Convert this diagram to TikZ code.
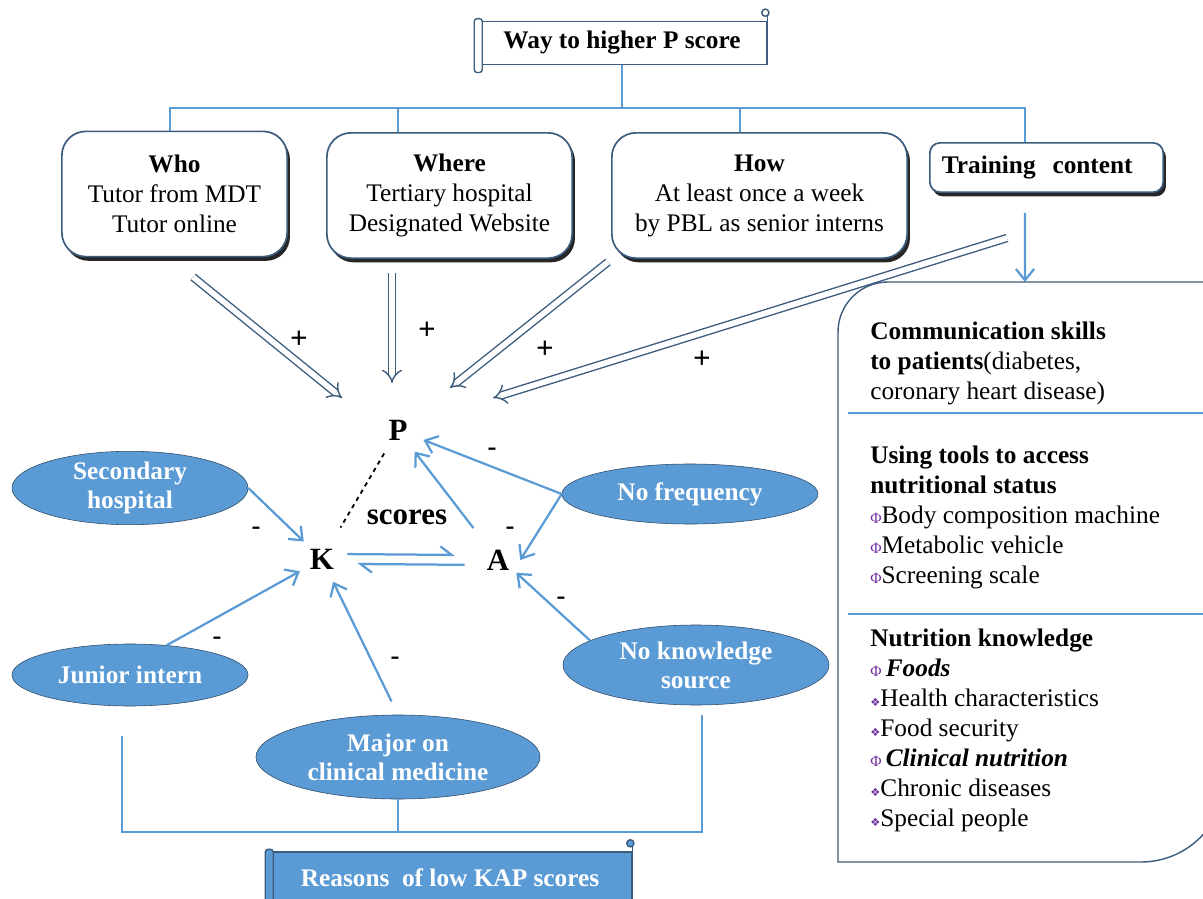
\documentclass[tikz,border=0pt]{standalone}
\usepackage{fontspec}
\setmainfont{Liberation Serif}
\newfontfamily\dingfont{DejaVu Sans}
\usepackage{tikz}
\usetikzlibrary{arrows.meta}
\usetikzlibrary{shapes.geometric}
\usetikzlibrary{shadows}
\usepackage{xcolor}
\definecolor{ColLine}{RGB}{91,155,213}
\definecolor{ColFill}{RGB}{91,155,213}
\definecolor{ColEdge}{RGB}{60,92,125}
\definecolor{ColBul}{RGB}{112,48,160}
\newcommand{\BigFont}{\fontsize{18}{21.3}\selectfont}
\newcommand{\PhiBul}{{\color{ColBul}\fontsize{11}{11}\selectfont Φ}}
\newcommand{\DiaBul}{{\color{ColBul}\dingfont\fontsize{8}{8}\selectfont ❖}}
\tikzstyle{BoxTop}=[draw=ColEdge,fill=white,rounded corners=0.6cm,line width=1.2pt,minimum height=3.13cm,
align=center,font=\BigFont,drop shadow={shadow xshift=2pt,shadow yshift=-3pt,fill=black,opacity=.85}]
\tikzstyle{BoxTrain}=[BoxTop,rounded corners=0.25cm,minimum width=5.83cm,minimum height=1.23cm,
text width=5.23cm,align=left,font=\BigFont\bfseries]
\tikzstyle{ScrollTop}=[draw=ColEdge,fill=white,line width=1pt,minimum width=7.25cm,minimum height=1.08cm,
font=\BigFont\bfseries]
\tikzstyle{ScrollBot}=[ScrollTop,fill=ColFill,text=white,minimum width=9.1cm,minimum height=1.3cm]
\tikzstyle{EllReason}=[ellipse,draw=ColEdge!80!black,fill=ColFill,text=white,thin,inner sep=0pt,
align=center,font=\fontsize{18}{20.6}\selectfont\bfseries]
\tikzstyle{LetterKAP}=[circle,inner sep=0pt,font=\fontsize{22}{22}\selectfont\bfseries]
\tikzstyle{EdgeBlue}=[ColLine,line width=1.6pt]
\tikzstyle{ArrowBlue}=[EdgeBlue,-{Straight Barb[length=8pt,width=13pt]}]
\tikzstyle{Harp}=[EdgeBlue,-{Straight Barb[left,length=8pt,width=12pt]}]
\tikzstyle{ArrowPlus}=[draw=ColEdge,double=white,double distance=4pt,line width=1pt,-{Implies[scale=1.5]}]
\tikzstyle{Sign}=[font=\fontsize{22}{22}\selectfont\bfseries,inner sep=0pt]
\tikzstyle{ListText}=[anchor=north west,align=left,font=\BigFont,inner sep=0pt]

\begin{document}
\begin{tikzpicture}[x=0.025cm,y=-0.025cm]
\useasboundingbox(0,0)rectangle(1203,899);
\clip(0,0)rectangle(1203,899);
\node[ScrollTop](title)at(622,43){Way to higher P score};
\draw[ColEdge,line width=1pt,fill=white,rounded corners=2pt]([xshift=-0.05cm,yshift=0.05cm]title.north west)rectangle([xshift=0.15cm,yshift=-0.18cm]title.south west);
\draw[ColEdge,line width=1pt]([yshift=0.17cm]title.north east)--(title.south east);
\draw[ColEdge,line width=1pt,fill=white]([xshift=-0.06cm,yshift=0.2cm]title.north east)circle(0.09cm);
\node[BoxTop,minimum width=5.63cm](who)at(174.5,194){\textbf{Who}\\Tutor from MDT\\Tutor online};
\node[BoxTop,minimum width=6.13cm](where)at(449.5,195.5){\textbf{Where}\\Tertiary hospital\\Designated Website};
\node[BoxTop,minimum width=7.38cm](how)at(759.5,195.5){\textbf{How}\\At least once a week\\by PBL as senior interns};
\node[BoxTrain](train)at(1046.5,167.5){Training\ \ content};
\coordinate(TreeJoin)at(622,108);
\draw[EdgeBlue](title.south)--(TreeJoin);
\foreach \b/\s in {who/-0.11cm,where/-1.29cm,how/-0.49cm,train/-0.54cm}
  \draw[EdgeBlue]([xshift=\s]\b.north)|-(TreeJoin);
\coordinate(ContentTop)at(1025,282);
\draw[ArrowBlue]([xshift=-0.54cm,yshift=-0.5cm]train.south)--(ContentTop);
\draw[ColEdge,line width=1pt](1210,282)[rounded corners=1.25cm]--(838,282)[sharp corners]--(838,862)[rounded corners=2.1cm]--(1225,862)--(1225,700);
\draw[ColLine,line width=0.8pt](848,413)--(1203,413);
\draw[ColLine,line width=0.8pt](848,614)--(1203,614);
\node[ListText](comm)at(870,322){\textbf{Communication skills}\\\textbf{to patients}(diabetes,\\coronary heart disease)};
\node[ListText](tools)at(870,446){\textbf{Using tools to access}\\\textbf{nutritional status}\\\PhiBul Body composition machine\\\PhiBul Metabolic vehicle\\\PhiBul Screening scale};
\node[ListText](knowl)at(870,629){\textbf{Nutrition knowledge}\\\PhiBul\,\textbf{\textit{Foods}}\\\DiaBul Health characteristics\\\DiaBul Food security\\\PhiBul\,\textbf{\textit{Clinical nutrition}}\\\DiaBul Chronic diseases\\\DiaBul Special people};
\node[LetterKAP,minimum size=1.35cm](P)at(398,430){P};
\node[LetterKAP,minimum size=1.25cm](K)at(322,559){K};
\node[LetterKAP,minimum size=1.1cm](A)at(498,560){A};
\node[font=\fontsize{22}{22}\selectfont\bfseries](scores)at(407,517){scores};
\node[EllReason,minimum width=5.9cm,minimum height=1.75cm](shos)at(130,488){Secondary\\hospital};
\node[EllReason,minimum width=5.9cm,minimum height=1.55cm](jun)at(130,675){Junior intern};
\node[EllReason,minimum width=7.1cm,minimum height=2.1cm](major)at(398,757){Major on\\clinical medicine};
\node[EllReason,minimum width=6.4cm,minimum height=1.5cm](nofreq)at(690,494){No frequency};
\node[EllReason,minimum width=6.65cm,minimum height=2cm](nks)at(696,665){No knowledge\\source};
\coordinate(WhoOut)at(193,277);\coordinate(PinWho)at(342,398);
\coordinate(WhereOut)at(392,273);\coordinate(PinWhere)at(392,383);
\coordinate(HowOut)at(608,262);\coordinate(PinHow)at(450,388);
\coordinate(TrainOut)at(1007,238);\coordinate(PinTrain)at(493,398);
\draw[ArrowPlus](WhoOut)--(PinWho);
\draw[ArrowPlus](WhereOut)--(PinWhere);
\draw[ArrowPlus](HowOut)--(PinHow);
\draw[ArrowPlus](TrainOut)--(PinTrain);
\node[Sign](p1)at(299,340){+};
\node[Sign](p2)at(427,331){+};
\node[Sign](p3)at(545,350){+};
\node[Sign](p4)at(702,360){+};
\draw[dashed,line width=1.3pt,shorten >=0.28cm](P)--(K);
\draw[Harp,shorten >=0.52cm]([yshift=3.5pt]K.east)--([yshift=3.5pt]A.west);
\draw[Harp,shorten <=0.28cm,shorten >=0.25cm]([yshift=-3.5pt]A.west)--([yshift=-3.5pt]K.east);
\draw[ArrowBlue,shorten <=0.45cm](A)--(P);
\draw[ArrowBlue](nofreq.west)--(P);
\draw[ArrowBlue](nofreq.west)--(A.east);
\draw[ArrowBlue](nks.167)--(A.-35);
\draw[ArrowBlue](shos.east)--(K);
\draw[ArrowBlue](jun.39)--(K);
\draw[ArrowBlue,shorten <=0.37cm](major.north)--(K);
\node[Sign,font=\fontsize{19}{19}\selectfont\bfseries](m1)at(492,452){-};
\node[Sign,font=\fontsize{19}{19}\selectfont\bfseries](m2)at(510,531){-};
\node[Sign,font=\fontsize{19}{19}\selectfont\bfseries](m3)at(561,601){-};
\node[Sign,font=\fontsize{19}{19}\selectfont\bfseries](m4)at(256,531){-};
\node[Sign,font=\fontsize{19}{19}\selectfont\bfseries](m5)at(217,641){-};
\node[Sign,font=\fontsize{19}{19}\selectfont\bfseries](m6)at(395,661){-};
\coordinate(BracketMid)at(398,832);
\draw[EdgeBlue](major.south)--(BracketMid);
\draw[EdgeBlue]([xshift=-0.2cm,yshift=-0.73cm]jun.south)|-(BracketMid);
\draw[EdgeBlue]([xshift=0.15cm,yshift=-0.25cm]nks.south)|-(BracketMid);
\node[ScrollBot](reasons)at(450,878){Reasons\ \ of low KAP scores};
\draw[ColEdge,line width=1pt,fill=ColFill,rounded corners=2pt]([xshift=-0.05cm,yshift=0.05cm]reasons.north west)rectangle([xshift=0.15cm,yshift=-0.18cm]reasons.south west);
\draw[ColEdge,line width=1pt]([yshift=0.17cm]reasons.north east)--(reasons.south east);
\draw[ColEdge,line width=1pt,fill=ColFill]([xshift=-0.06cm,yshift=0.2cm]reasons.north east)circle(0.09cm);
\end{tikzpicture}
\end{document}
